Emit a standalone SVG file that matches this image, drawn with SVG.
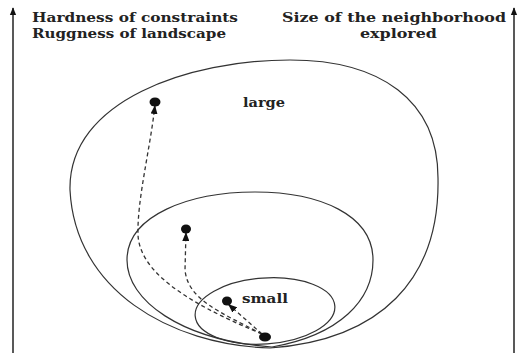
<svg xmlns="http://www.w3.org/2000/svg" width="518" height="353" viewBox="0 0 518 353">
<style>
.lbl{font-family:"DejaVu Serif","Liberation Serif",serif;font-weight:bold;font-size:13px;fill:#222}
.curve{fill:none;stroke:#333;stroke-width:1.2}
.dash{fill:none;stroke:#333;stroke-width:1.3;stroke-dasharray:4 3}
.axis{stroke:#222;stroke-width:1.5;fill:none}
.dot{fill:#111}
</style>
<defs>
<marker id="ah" viewBox="0 0 10 10" refX="10" refY="5" markerWidth="9" markerHeight="7" orient="auto" markerUnits="userSpaceOnUse" preserveAspectRatio="none">
<path d="M0 0 L10 5 L0 10 Z" fill="#111"/>
</marker>
<marker id="ax" viewBox="0 0 10 10" refX="9" refY="5" markerWidth="8" markerHeight="8" orient="auto" markerUnits="userSpaceOnUse">
<path d="M0 1 L10 5 L0 9 Z" fill="#111"/>
</marker>
</defs>
<rect width="518" height="353" fill="#fff"/>
<g id="axes">
<line class="axis" x1="13" y1="353" x2="13" y2="8" marker-end="url(#ax)"/>
<line class="axis" x1="514" y1="353" x2="514" y2="8" marker-end="url(#ax)"/>
</g>
<g id="titles">
<text class="lbl" x="32" y="22" textLength="206" lengthAdjust="spacingAndGlyphs">Hardness of constraints</text>
<text class="lbl" x="32" y="38" textLength="194" lengthAdjust="spacingAndGlyphs">Ruggness of landscape</text>
<text class="lbl" x="282" y="22" textLength="224" lengthAdjust="spacingAndGlyphs">Size of the neighborhood</text>
<text class="lbl" x="360" y="38" textLength="77" lengthAdjust="spacingAndGlyphs">explored</text>
</g>
<g id="large">
<path class="curve" d="M270 348 C170 345 75 290 70 190 C68 100 190 60 290 60 C380 60 438 100 438 178 C440 280 380 340 270 348 Z"/>
<text class="lbl" x="243" y="107" textLength="42" lengthAdjust="spacingAndGlyphs">large</text>
</g>
<g id="medium">
<path class="curve" d="M272 347 C180 340 127 300 127 260 C127 215 190 192 255 192 C320 192 373 215 373 260 C373 300 340 335 272 347 Z"/>
</g>
<g id="small">
<ellipse class="curve" cx="265" cy="311" rx="70" ry="33" transform="rotate(-4 265 311)"/>
<text class="lbl" x="242" y="303" textLength="46" lengthAdjust="spacingAndGlyphs">small</text>
</g>
<g id="connectors">
<path class="dash" d="M262 334 C180 300 140 270 138 235 C137 200 150 150 155 105" marker-end="url(#ah)"/>
<path class="dash" d="M262 334 C220 312 188 300 185 270 L186 232" marker-end="url(#ah)"/>
<path class="dash" d="M262 334 L228 304" marker-end="url(#ah)"/>
</g>
<g id="points">
<ellipse class="dot" cx="155" cy="102" rx="5.5" ry="4.5"/>
<ellipse class="dot" cx="186" cy="229" rx="5" ry="4.5"/>
<ellipse class="dot" cx="227" cy="301" rx="5" ry="4.5"/>
<ellipse class="dot" cx="265" cy="337" rx="6" ry="4.5"/>
</g>
</svg>
